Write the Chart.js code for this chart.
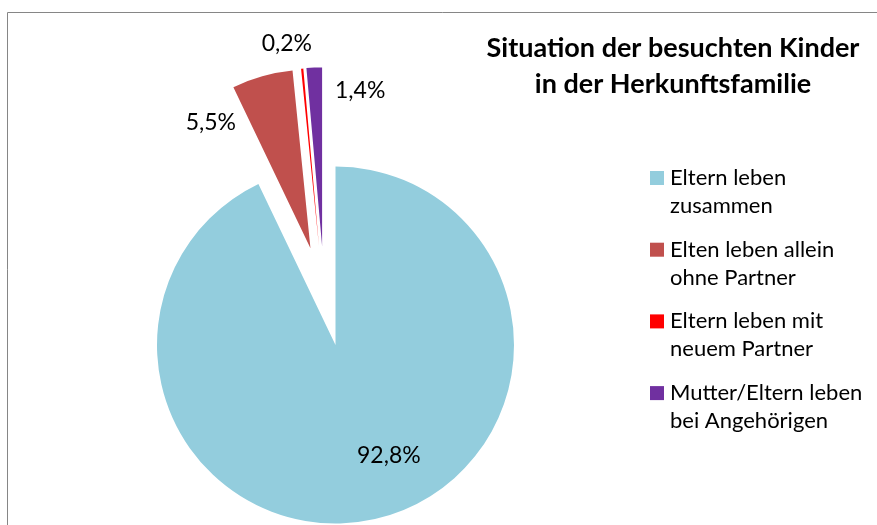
<!DOCTYPE html>
<html>
<head>
<meta charset="utf-8">
<script src="https://cdn.jsdelivr.net/npm/chart.js@4/dist/chart.umd.min.js"></script>
<style>
  html, body { margin: 0; padding: 0; background: #fff; }
  #wrap { position: relative; width: 877px; height: 525px; }
</style>
</head>
<body>
<div id="wrap"><canvas id="grafik" width="877" height="525"></canvas></div>
<script>
const kategorien = [
  ['Eltern leben', 'zusammen'],
  ['Elten leben allein', 'ohne Partner'],
  ['Eltern leben mit', 'neuem Partner'],
  ['Mutter/Eltern leben', 'bei Angehörigen'],
];
const anteile = [92.8, 5.5, 0.2, 1.4];
const beschriftung = ['92,8%', '5,5%', '0,2%', '1,4%'];
const titel = ['Situation der besuchten Kinder', 'in der Herkunftsfamilie'];
const farben = ['#93CDDD', '#C0504D', '#FF0000', '#7030A0'];

// Explosion der Segmente: Abstand (px) und Richtung (Grad, im Uhrzeigersinn ab oben)
const explAbstand = [0, 100, 100, 100];
const explWinkel = [0, -14.5, -9.5, -7.7];
// Prozentwerte: Abstand (px) und Winkel zum (verschobenen) Segmentmittelpunkt
const labelPos = [[123, 154.3], [160, -38.5], [205.5, -9.0], [159.6, 13.8]];

const FONT = 'Lato, "Open Sans", sans-serif';
const rad = (g) => (g - 90) * Math.PI / 180;
const verschiebung = (i) => [Math.cos(rad(explWinkel[i])) * explAbstand[i], Math.sin(rad(explWinkel[i])) * explAbstand[i]];

const deko = {
  id: 'deko',
  // Segmente selbst zeichnen, damit jedes Segment frei verschoben werden kann
  beforeDatasetDraw(chart, args) {
    const ctx = chart.ctx;
    args.meta.data.forEach((arc, i) => {
      const [dx, dy] = verschiebung(i);
      ctx.save();
      ctx.translate(dx, dy);
      arc.draw(ctx);
      ctx.restore();
    });
    return false;
  },
  afterDraw(chart) {
    const ctx = chart.ctx;
    ctx.save();

    // Rahmen (nur links/oben sichtbar)
    ctx.strokeStyle = '#868686';
    ctx.lineWidth = 1;
    ctx.beginPath();
    ctx.moveTo(7.5, 530); ctx.lineTo(7.5, 12.5); ctx.lineTo(890, 12.5);
    ctx.stroke();

    // Prozentwerte
    const meta = chart.getDatasetMeta(0);
    ctx.fillStyle = '#000';
    ctx.font = '23px ' + FONT;
    ctx.textAlign = 'center';
    ctx.textBaseline = 'middle';
    meta.data.forEach((arc, i) => {
      const p = arc.getProps(['x', 'y'], true);
      const [dx, dy] = verschiebung(i);
      const a = rad(labelPos[i][1]);
      ctx.fillText(beschriftung[i], p.x + dx + Math.cos(a) * labelPos[i][0], p.y + dy + Math.sin(a) * labelPos[i][0]);
    });

    // Titel
    ctx.font = 'bold 27px ' + FONT;
    ctx.textBaseline = 'alphabetic';
    titel.forEach((t, i) => ctx.fillText(t, 673, 57 + i * 36));

    // Legende
    ctx.font = '22px ' + FONT;
    ctx.textAlign = 'left';
    kategorien.forEach((zeilen, i) => {
      const base = 185 + i * 71.7;
      ctx.fillStyle = farben[i];
      ctx.fillRect(650, base - 14, 14, 14);
      ctx.fillStyle = '#000';
      zeilen.forEach((z, j) => ctx.fillText(z, 670, base + j * 28));
    });

    ctx.restore();
  }
};

new Chart(document.getElementById('grafik'), {
  type: 'pie',
  data: {
    labels: kategorien.map(k => k.join(' ')),
    datasets: [{
      data: anteile,
      backgroundColor: farben,
      borderWidth: 0,
      radius: 178.5,
      clip: false,
    }],
  },
  options: {
    responsive: false,
    animation: false,
    layout: { padding: { left: 0, right: 206, top: 165, bottom: 0 } },
    plugins: { legend: { display: false }, tooltip: { enabled: false }, title: { display: false } },
  },
  plugins: [deko],
});
</script>
</body>
</html>
